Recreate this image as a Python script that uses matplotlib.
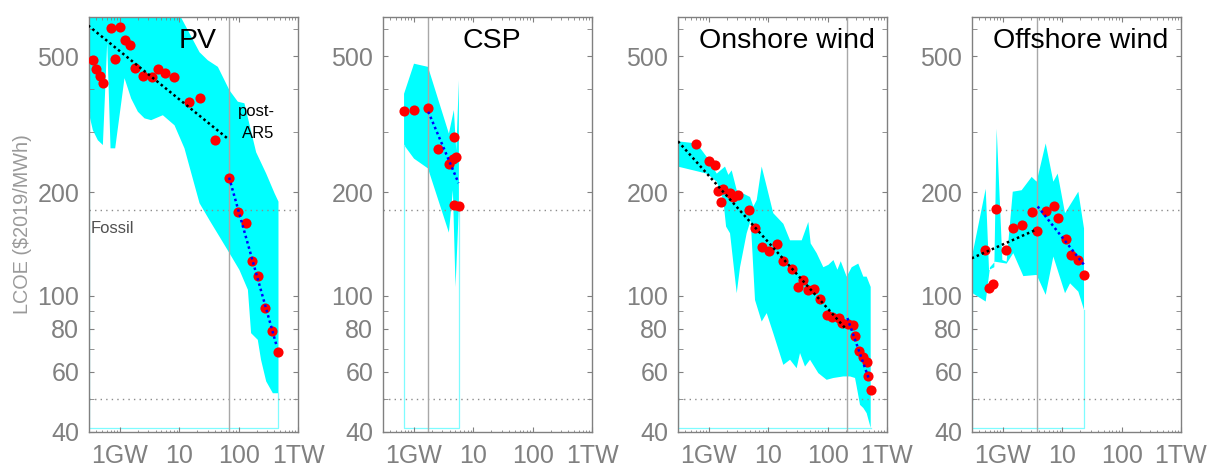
import numpy as np
import matplotlib
matplotlib.use("Agg")
import matplotlib.pyplot as plt
from matplotlib.ticker import FixedLocator, NullFormatter, LogLocator

plt.rcParams['font.family'] = ['Liberation Sans', 'DejaVu Sans']

# ---------------- data ----------------
titles = ["PV", "CSP", "Onshore wind", "Offshore wind"]

# PV
pv_x = [0.348, 0.396, 0.452, 0.514, 0.692, 0.808, 0.99, 1.22, 1.48, 1.80, 2.43, 3.49, 4.29,
        5.77, 8.07, 14.6, 21.9, 39.2, 68.3, 96.8, 134, 167, 208, 276, 367, 469]
pv_y = [486, 457, 437, 417, 603, 489, 608, 558, 537, 462, 436, 433, 457,
        446, 434, 367, 377, 285, 221, 175, 163, 126, 114, 92.3, 78.8, 68.6]
pv_up_x = [0.287, 10.1, 21.9, 30.2, 44.6, 70.1, 96.8, 125, 197, 291, 402, 469]
pv_up_y = [800, 660, 513, 486, 465, 397, 368, 364, 262, 227, 199, 188]
pv_lo_x = [0.295, 0.348, 0.423, 0.514, 0.608, 0.692, 0.829, 1.19, 1.54, 2.0, 2.59, 3.35, 5.27,
           8.29, 12.2, 14.8, 21.9, 32.2, 47.5, 70.1, 103, 143, 162, 210, 238, 291, 377, 469]
pv_lo_y = [344, 304, 284, 275, 548, 269, 269, 431, 376, 344, 329, 325, 336,
           314, 269, 238, 186, 166, 148.6, 132.9, 118.8, 104, 77.7, 74.3, 65.0, 56.2, 51.9, 51.9]
pv_trend_x = [0.29, 69]
pv_trend_y = [614, 285]
pv_post_x = [69, 440]
pv_post_y = [221, 71]
pv_ar5 = 70

# CSP
csp_x = [0.679, 1.0, 1.70, 2.56, 3.83, 4.70, 4.52, 5.01, 4.76, 5.78]
csp_y = [346, 348, 353, 267, 242, 290, 251, 254, 184, 182]
csp_up_x = [0.679, 1.0, 1.72, 3.87, 4.70, 5.15, 5.71]
csp_up_y = [388, 475, 465, 297, 348, 265, 425]
csp_lo_x = [0.679, 1.0, 1.72, 3.87, 4.52, 5.01, 5.71]
csp_lo_y = [275, 251, 235, 152.7, 203, 106, 182]
csp_trend_x = []
csp_trend_y = []
csp_post_x = [1.74, 5.63]
csp_post_y = [344, 213]
csp_ar5 = 1.72

# Onshore wind
on_x = [0.604, 1.01, 1.26, 1.44, 1.74, 1.57, 2.26, 2.57, 3.12, 4.78, 5.96, 7.72, 10.3, 13.8,
        17.7, 24.7, 31.6, 38.9, 47.2, 59.6, 74.3, 96.2, 120, 157, 177, 223, 264, 289,
        342, 399, 454, 484, 531]
on_y = [276, 247, 241, 202, 205, 188, 199, 194, 196, 178, 157, 139, 135, 141,
        126, 119.4, 105.7, 111, 104, 104.6, 97.6, 87.9, 86.9, 85.9, 83.1, 82.7, 82.2, 76.0,
        69.1, 66.4, 64.2, 58.1, 53.1]
on_up_x = [0.296, 0.620, 0.914, 1.35, 1.86, 2.12, 2.41, 2.93, 4.91, 5.59, 6.36, 7.72, 9.38,
           12.1, 17.9, 23.2, 36.5, 47.2, 51.7, 65.3, 84.5, 103, 125, 146, 166, 209, 254,
           328, 399, 454, 531]
on_up_y = [282, 278, 254, 227, 238, 225, 232, 203, 194, 182, 190, 238, 208,
           174, 162, 145, 145, 164, 142, 133, 121, 123, 127, 119, 126, 113.6, 121,
           124, 113.6, 113.6, 106]
on_lo_x = [0.296, 0.545, 0.914, 1.35, 1.74, 1.94, 2.26, 2.93, 3.33, 4.31, 5.04, 5.96, 7.72,
           9.38, 12.1, 17.9, 23.2, 30.0, 34.2, 41.5, 50.4, 69.6, 96.2, 125, 184, 238,
           289, 308, 351, 399, 454, 531]
on_lo_y = [238, 232, 227, 215, 190, 159, 152, 101.6, 121, 152, 166, 97.1, 84.0,
           88.9, 77.7, 62.8, 65.0, 61.4, 68.0, 62.1, 65.0, 59.4, 56.8, 57.5, 58.1, 58.1,
           57.5, 54.3, 48.0, 47.0, 45.4, 41.1]
on_trend_x = [0.30, 209]
on_trend_y = [282, 79.5]
on_post_x = [215, 505]
on_post_y = [86, 56.6]
on_ar5 = 215

# Offshore wind
off_x = [0.497, 0.589, 0.687, 0.772, 1.14, 1.46, 2.06, 3.04, 3.74, 5.24, 7.14, 8.45,
         11.5, 14.0, 18.6, 23.2]
off_y = [136, 105, 108, 178.5, 136, 157, 161, 175, 154, 177, 183, 169,
         146, 131, 127, 115]
off_up_x = [0.296, 0.511, 0.581, 0.714, 0.782, 0.975, 1.15, 1.46, 2.06, 3.04, 3.69, 5.24,
            7.05, 8.34, 11.1, 18.6, 23.2]
off_up_y = [128.5, 205, 118.8, 121, 307, 127, 125.6, 201, 203, 222, 215, 278,
            215, 227, 174, 201, 157]
off_lo_x = [0.296, 0.511, 0.604, 0.733, 1.15, 1.49, 2.20, 3.69, 5.24, 7.05, 11.1, 13.5,
            18.6, 23.2]
off_lo_y = [102, 96.1, 121, 125.6, 124, 133, 114, 114.9, 100.5, 130, 101.6, 108.6,
            102.7, 90.9]
off_trend_x = [0.296, 3.69]
off_trend_y = [128.5, 156]
off_post_x = [3.84, 23.2]
off_post_y = [182, 123]
off_ar5 = 3.74

fossil_levels = [178, 50]
band_floor = 41.1

x_ticks = [1, 10, 100, 1000]
x_ticklabels = ["1GW", "10", "100", "1TW"]
y_ticks = [40, 60, 80, 100, 200, 500]
y_minor = [50, 70, 90, 300, 400, 600]

panels = [
    (pv_x, pv_y, pv_up_x, pv_up_y, pv_lo_x, pv_lo_y, pv_trend_x, pv_trend_y, pv_post_x, pv_post_y, pv_ar5),
    (csp_x, csp_y, csp_up_x, csp_up_y, csp_lo_x, csp_lo_y, csp_trend_x, csp_trend_y, csp_post_x, csp_post_y, csp_ar5),
    (on_x, on_y, on_up_x, on_up_y, on_lo_x, on_lo_y, on_trend_x, on_trend_y, on_post_x, on_post_y, on_ar5),
    (off_x, off_y, off_up_x, off_up_y, off_lo_x, off_lo_y, off_trend_x, off_trend_y, off_post_x, off_post_y, off_ar5),
]

# ---------------- figure ----------------
W, H = 1207, 468
fig = plt.figure(figsize=(W / 100, H / 100), dpi=100)
lefts = [89, 383, 678, 972]
ax_w, ax_top, ax_bot = 209, 17, 432

gray = '#808080'
for i, (title, p) in enumerate(zip(titles, panels)):
    (px, py, ux, uy, lx, ly, tx, ty, bx, by, ar5) = p
    ax = fig.add_axes([lefts[i] / W, 1 - ax_bot / H, ax_w / W, (ax_bot - ax_top) / H])
    ax.set_xscale('log')
    ax.set_yscale('log')
    ax.set_xlim(0.3, 1000)
    ax.set_ylim(40, 650)

    # uncertainty band
    polyx = np.concatenate([ux, lx[::-1]])
    polyy = np.concatenate([uy, ly[::-1]])
    ax.fill(polyx, polyy, color='#00ffff', lw=0, zorder=1)
    ax.plot([lx[0], lx[0], lx[-1], lx[-1]], [ly[0], band_floor, band_floor, ly[-1]],
            color='#7ffcff', lw=0.9, zorder=1.2)

    for lev in fossil_levels:
        ax.axhline(lev, color='#8c8c8c', lw=1.0, ls=(0, (1, 3)), zorder=2)
    ax.axvline(ar5, color='#a8a8a8', lw=1.0, zorder=2)

    ax.plot(px, py, 'o', color='#ff0000', ms=7.3, mec='none', zorder=3)
    if len(tx):
        ax.plot(tx, ty, color='black', lw=1.8, ls=(0, (1, 1.2)), zorder=4)
    ax.plot(bx, by, color='#0000ff', lw=1.8, ls=(0, (1, 1.2)), zorder=4)

    ax.text(0.52, 1 - 31 / 415, title, transform=ax.transAxes, ha='center', va='baseline',
            fontsize=20.5, color='black', zorder=5)

    ax.xaxis.set_major_locator(FixedLocator(x_ticks))
    ax.set_xticklabels(x_ticklabels)
    ax.xaxis.set_minor_locator(LogLocator(base=10, subs=np.arange(2, 10), numticks=20))
    ax.xaxis.set_minor_formatter(NullFormatter())
    ax.yaxis.set_major_locator(FixedLocator(y_ticks))
    ax.set_yticklabels([str(v) for v in y_ticks])
    ax.yaxis.set_minor_locator(FixedLocator(y_minor))
    ax.yaxis.set_minor_formatter(NullFormatter())

    ax.tick_params(which='both', direction='in', top=True, right=True, colors=gray,
                   labelcolor=gray, labelsize=18)
    ax.tick_params(axis='x', which='major', length=3.6, pad=8.5)
    ax.tick_params(axis='x', which='minor', length=1.8)
    ax.tick_params(axis='y', which='both', length=3.6, pad=7)
    for s in ax.spines.values():
        s.set_color(gray)
        s.set_linewidth(1.0)

    if i == 0:
        ax.set_ylabel("LCOE ($2019/MWh)", fontsize=14.3, color='#9a9a9a')
        ax.yaxis.set_label_coords(-(89 - 32) / ax_w, 0.5)
        ax.text(0.318, 152, "Fossil", fontsize=12, color='#505050', ha='left', va='baseline', zorder=5)
        ax.text(403, 334, "post-", fontsize=12, color='black', ha='right', va='baseline', zorder=5)
        ax.text(403, 288, "AR5", fontsize=12, color='black', ha='right', va='baseline', zorder=5)

fig.savefig("out.png", dpi=100)
